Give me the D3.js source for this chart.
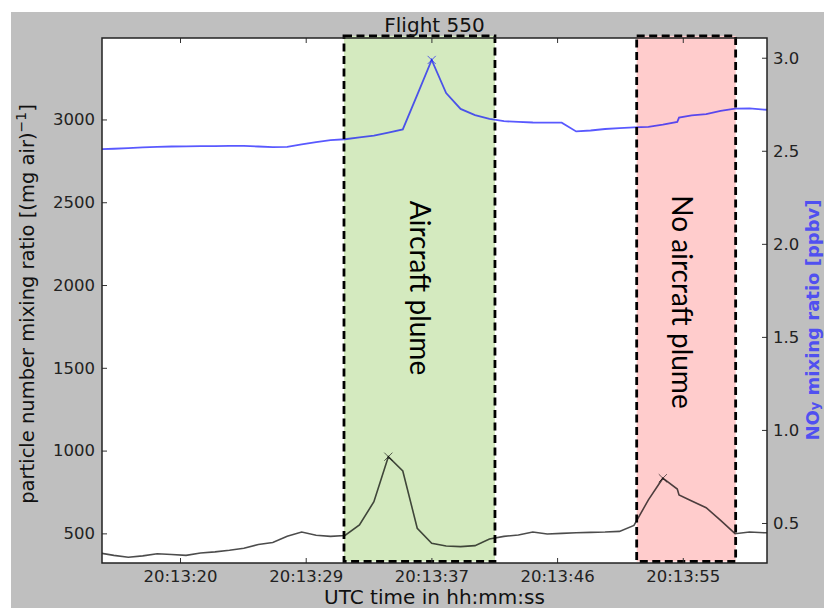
<!DOCTYPE html>
<html>
<head>
<meta charset="utf-8">
<script src="https://cdn.jsdelivr.net/npm/d3@7"></script>
<style>
  body { margin: 0; background: #ffffff; }
  svg { display: block; font-family: "DejaVu Sans", sans-serif; }
</style>
</head>
<body>
<div id="chart"></div>
<script>
/////////////////////////////////////////////////////////
////////////// Data (seconds after 20:13:00) ///////////////
/////////////////////////////////////////////////////////

var seconds = [15, 16, 17, 18, 19, 20, 21, 22, 23, 24, 25, 26, 27, 28, 29, 30, 31, 32, 33, 34,
  35, 36, 37, 38, 39, 40, 41, 42, 43, 44, 45, 46, 47, 48, 49, 50, 51, 52, 53, 54,
  55, 55.12, 56, 57, 58, 59, 60, 61, 62];

// particle number mixing ratio, left axis
var particleNumber = [382, 367, 356, 364, 377, 372, 367, 381, 388, 398, 410, 433, 445, 482, 508, 489, 482, 487, 551, 691,
  963, 877, 531, 440, 424, 420, 426, 466, 482, 490, 508, 496, 500, 504, 506, 508, 512, 548, 702, 833,
  768, 732, 695, 655, 578, 498, 508, 504, 504];

// NOy mixing ratio, right axis
var noyRatio = [2.508, 2.511, 2.514, 2.518, 2.521, 2.523, 2.524, 2.525, 2.525, 2.526, 2.526, 2.523, 2.520, 2.521, 2.534, 2.547, 2.557, 2.562, 2.572, 2.581,
  2.598, 2.615, 2.800, 2.988, 2.810, 2.725, 2.692, 2.672, 2.659, 2.655, 2.652, 2.651, 2.651, 2.604, 2.609, 2.617, 2.622, 2.626, 2.628, 2.640,
  2.655, 2.678, 2.690, 2.697, 2.715, 2.727, 2.728, 2.721, 2.719];

var particlePeaks = [35, 54];
var noyPeaks = [38];

var xTickSeconds = [20.58, 29.28, 37.98, 46.68, 55.38];
var xTickLabels = ["20:13:20", "20:13:29", "20:13:37", "20:13:46", "20:13:55"];
var leftTicks = [500, 1000, 1500, 2000, 2500, 3000];
var rightTicks = [0.5, 1.0, 1.5, 2.0, 2.5, 3.0];

var regionLabels = ["Aircraft plume", "No aircraft plume"];
var regionStart = [31.93, 52.19];
var regionEnd = [42.38, 59.04];

/////////////////////////////////////////////////////////
////////////////////// Layout //////////////////////////
/////////////////////////////////////////////////////////

var W = 824, H = 608;
var margin = { top: 38, right: 57, bottom: 45, left: 102 },
  width = W - margin.left - margin.right,
  height = H - margin.top - margin.bottom;

var svg = d3.select("#chart").append("svg")
  .attr("width", W)
  .attr("height", H);

// gray figure background (figure is cropped at top/left)
svg.append("rect")
  .attr("x", 11).attr("y", 12)
  .attr("width", W - 11).attr("height", H - 12)
  .attr("fill", "#bfbfbf");

var g = svg.append("g")
  .attr("transform", "translate(" + margin.left + "," + margin.top + ")");

g.append("rect")
  .attr("width", width).attr("height", height)
  .attr("fill", "#ffffff");

var x = d3.scaleLinear().domain([15.18, 61.21]).range([0, width]);
var yLeft = d3.scaleLinear().domain([321, 3492]).range([height, 0]);
var yRight = d3.scaleLinear().domain([0.285, 3.106]).range([height, 0]);

g.append("clipPath").attr("id", "plotClip")
  .append("rect").attr("width", width).attr("height", height);

/////////////////////////////////////////////////////////
///////////////// Shaded plume regions ////////////////////
/////////////////////////////////////////////////////////

var regionFill = ["#d4eabf", "#ffcccc"];
var boxTop = yLeft(3505), boxBottom = yLeft(330);

g.selectAll(".region")
  .data(regionLabels).enter().append("rect")
  .attr("class", "region")
  .attr("x", (d, i) => x(regionStart[i]))
  .attr("y", boxTop)
  .attr("width", (d, i) => x(regionEnd[i]) - x(regionStart[i]))
  .attr("height", boxBottom - boxTop)
  .attr("fill", (d, i) => regionFill[i]);

/////////////////////////////////////////////////////////
/////////////////////// Lines ////////////////////////////
/////////////////////////////////////////////////////////

var lines = g.append("g").attr("clip-path", "url(#plotClip)");

var particleLine = d3.line()
  .x((d, i) => x(seconds[i]))
  .y(d => yLeft(d));

var noyLine = d3.line()
  .x((d, i) => x(seconds[i]))
  .y(d => yRight(d));

lines.append("path")
  .datum(particleNumber)
  .attr("d", particleLine)
  .attr("fill", "none")
  .attr("stroke", "#000000")
  .attr("stroke-opacity", 0.7)
  .attr("stroke-width", 1.6);

lines.append("path")
  .datum(noyRatio)
  .attr("d", noyLine)
  .attr("fill", "none")
  .attr("stroke", "#0000ff")
  .attr("stroke-opacity", 0.65)
  .attr("stroke-width", 1.8);

var cross = d3.symbol().type(d3.symbolX).size(45);

g.selectAll(".pPeak")
  .data(particlePeaks).enter().append("path")
  .attr("class", "pPeak")
  .attr("d", cross)
  .attr("transform", d => "translate(" + x(d) + "," + yLeft(particleNumber[seconds.indexOf(d)]) + ")")
  .attr("fill", "none")
  .attr("stroke", "#000000")
  .attr("stroke-opacity", 0.6)
  .attr("stroke-width", 1);

g.selectAll(".nPeak")
  .data(noyPeaks).enter().append("path")
  .attr("class", "nPeak")
  .attr("d", cross)
  .attr("transform", d => "translate(" + x(d) + "," + yRight(noyRatio[seconds.indexOf(d)]) + ")")
  .attr("fill", "none")
  .attr("stroke", "#0000ff")
  .attr("stroke-opacity", 0.6)
  .attr("stroke-width", 1);

// dashed outlines drawn over the lines
g.selectAll(".regionBox")
  .data(regionLabels).enter().append("rect")
  .attr("class", "regionBox")
  .attr("x", (d, i) => x(regionStart[i]))
  .attr("y", boxTop)
  .attr("width", (d, i) => x(regionEnd[i]) - x(regionStart[i]))
  .attr("height", boxBottom - boxTop)
  .attr("fill", "none")
  .attr("stroke", "#000000")
  .attr("stroke-width", 2.8)
  .attr("stroke-dasharray", "8,4.5");

g.selectAll(".regionText")
  .data(regionLabels).enter().append("text")
  .attr("class", "regionText")
  .attr("transform", (d, i) => "translate(" + (i === 0 ? 319 : 581) + "," + (i === 0 ? 250 : 264) + ") rotate(90)")
  .attr("text-anchor", "middle")
  .attr("dominant-baseline", "central")
  .style("font-family", "Lato, sans-serif")
  .style("font-size", "28px")
  .style("fill", "#000000")
  .text(d => d);

/////////////////////////////////////////////////////////
/////////////////////// Axes /////////////////////////////
/////////////////////////////////////////////////////////

function styleAxis(sel) {
  sel.select(".domain").remove();
  sel.selectAll(".tick line").attr("stroke", "#333333").attr("stroke-width", 1);
  sel.selectAll(".tick text").style("font-size", "16.5px").style("fill", "#222222")
    .style("font-family", "DejaVu Sans, sans-serif");
}

g.append("g")
  .attr("transform", "translate(0," + height + ")")
  .call(d3.axisBottom(x).tickValues(xTickSeconds)
    .tickFormat((d, i) => xTickLabels[i]).tickSizeInner(-5).tickPadding(7))
  .call(styleAxis);

g.append("g")
  .call(d3.axisTop(x).tickValues(xTickSeconds).tickFormat("").tickSizeInner(-5))
  .call(styleAxis);

g.append("g")
  .call(d3.axisLeft(yLeft).tickValues(leftTicks).tickFormat(d3.format("d"))
    .tickSizeInner(-5).tickPadding(7))
  .call(styleAxis);

g.append("g")
  .attr("transform", "translate(" + width + ",0)")
  .call(d3.axisRight(yRight).tickValues(rightTicks).tickFormat(d3.format(".1f"))
    .tickSizeInner(-5).tickPadding(6))
  .call(styleAxis);

// frame
g.append("rect")
  .attr("width", width).attr("height", height)
  .attr("fill", "none")
  .attr("stroke", "#222222")
  .attr("stroke-width", 1.5);

/////////////////////////////////////////////////////////
///////////////////// Titles /////////////////////////////
/////////////////////////////////////////////////////////

svg.append("text")
  .attr("x", margin.left + width / 2)
  .attr("y", 31.5)
  .attr("text-anchor", "middle")
  .style("font-size", "20px")
  .style("fill", "#111111")
  .text("Flight 550");

svg.append("text")
  .attr("x", margin.left + width / 2)
  .attr("y", 604)
  .attr("text-anchor", "middle")
  .style("font-size", "20px")
  .style("fill", "#111111")
  .text("UTC time in hh:mm:ss");

var leftLabel = svg.append("text")
  .attr("transform", "translate(34,304) rotate(-90)")
  .attr("text-anchor", "middle")
  .style("font-size", "19.5px")
  .style("fill", "#111111");
leftLabel.append("tspan").text("particle number mixing ratio [(mg air)");
leftLabel.append("tspan").attr("dy", -8).style("font-size", "14px").text("\u22121");
leftLabel.append("tspan").attr("dy", 8).text("]");

var rightLabel = svg.append("text")
  .attr("transform", "translate(805,320) rotate(-90)")
  .attr("text-anchor", "middle")
  .attr("dominant-baseline", "hanging")
  .style("font-size", "18px")
  .style("font-weight", "bold")
  .style("fill", "#5050f0");
rightLabel.append("tspan").text("NO");
rightLabel.append("tspan").attr("dy", 4).style("font-size", "13px").text("y");
rightLabel.append("tspan").attr("dy", -4).text(" mixing ratio [ppbv]");
</script>
</body>
</html>
